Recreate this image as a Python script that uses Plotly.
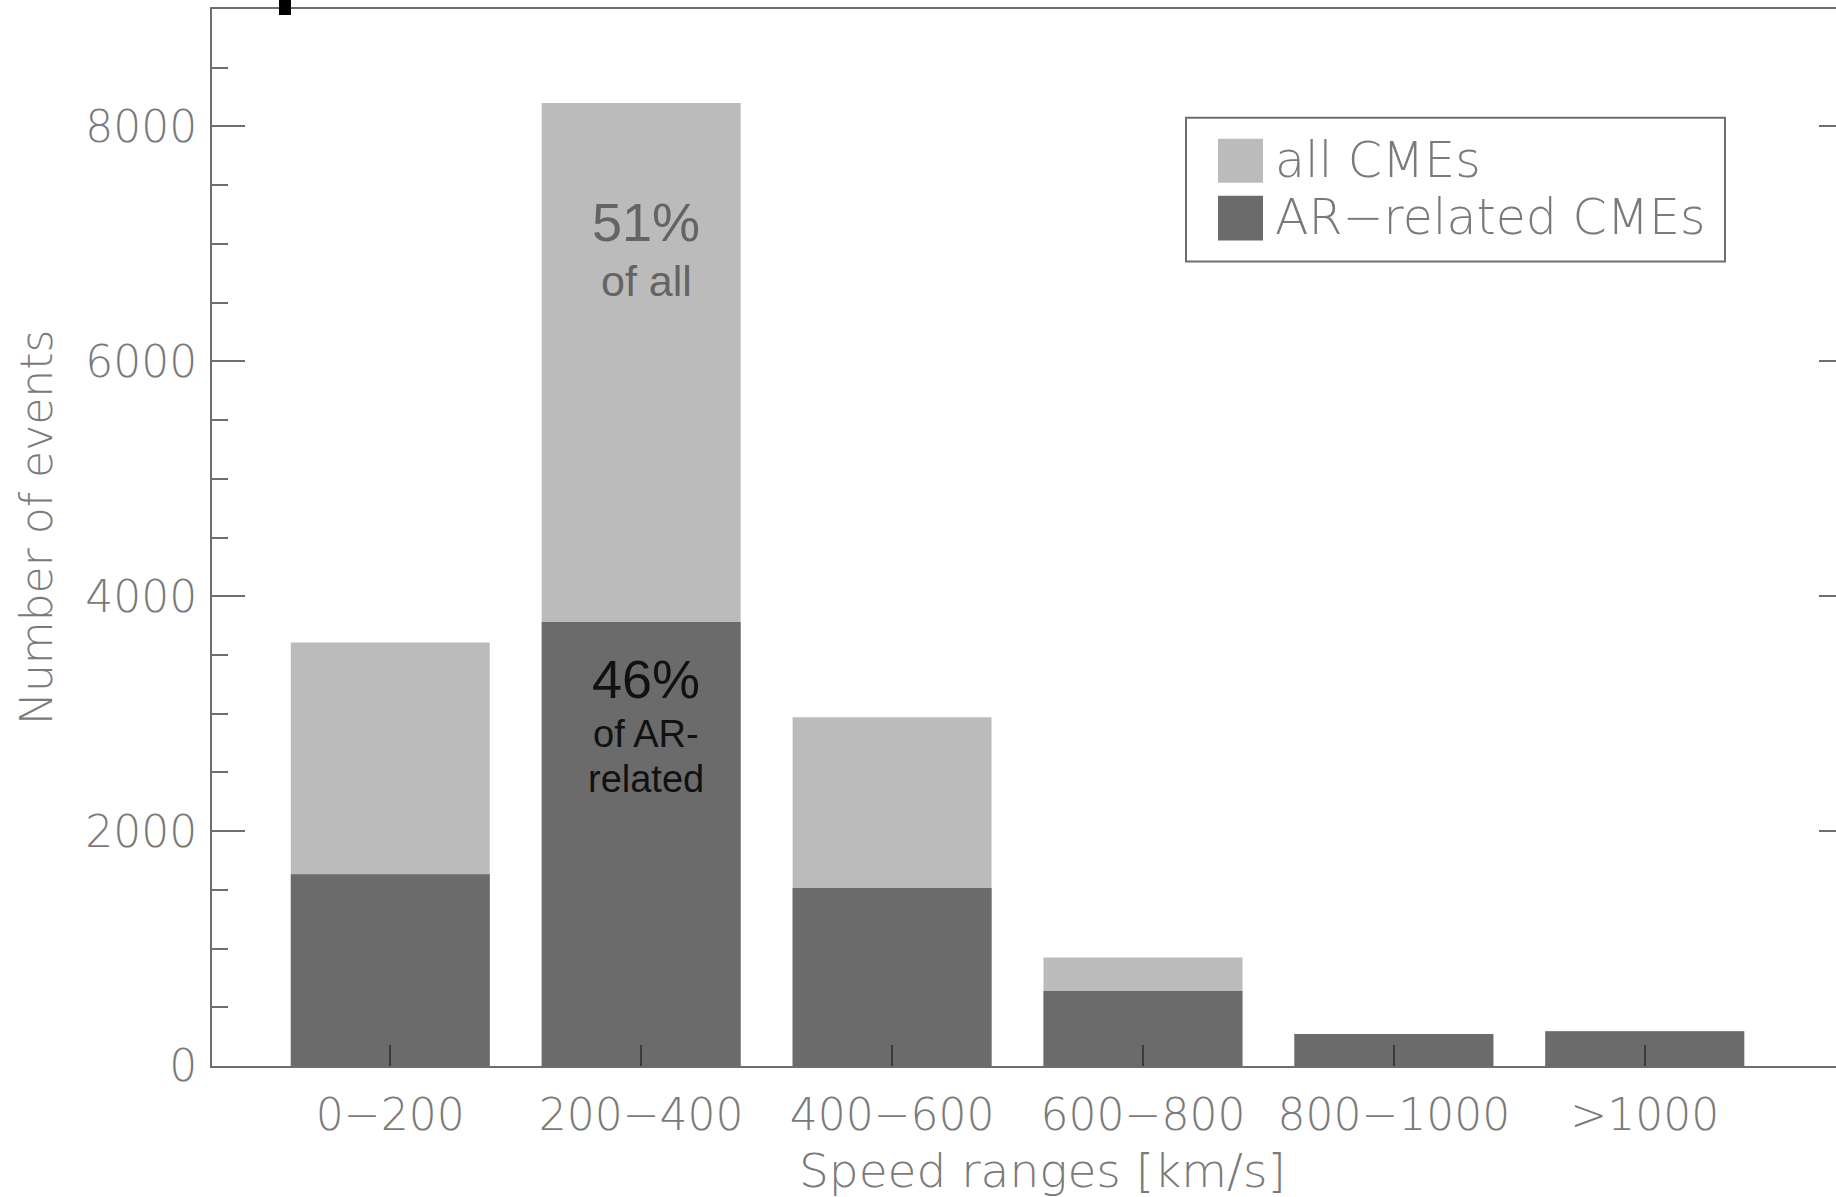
import plotly.graph_objects as go

# Speed bins and CME counts
speed_bins = ["0\u2212200", "200\u2212400", "400\u2212600", "600\u2212800", "800\u22121000", ">1000"]
all_cmes = [3607, 8200, 2970, 924, 272, 295]
ar_cmes = [1632, 3780, 1515, 638, 272, 295]

LIGHT = "#bbbbbb"
DARK = "#6b6b6b"
AXIS = "#6e6e6e"
TEXT = "#7a7a7a"
FONT = "DejaVu Sans"

W, H = 1870, 1197
L, R, T, B = 212, 18, 7, 131
pw, ph = W - L - R, H - T - B


def px_x(x):
    return (x - L) / pw


def px_y(y):
    return (H - B - y) / ph


xpos = list(range(len(speed_bins)))

fig = go.Figure()
fig.add_trace(go.Bar(x=xpos, y=all_cmes, name="all CMEs", marker=dict(color=LIGHT, line=dict(width=0)),
                     width=0.793, showlegend=False))
fig.add_trace(go.Bar(x=xpos, y=ar_cmes, name="AR-related CMEs", marker=dict(color=DARK, line=dict(width=0)),
                     width=0.793, showlegend=False))

fig.update_layout(
    width=W, height=H,
    margin=dict(l=L, r=R, t=T, b=B, pad=0),
    barmode="overlay",
    plot_bgcolor="white", paper_bgcolor="white",
    font=dict(family=FONT, color=TEXT, size=42),
)

fig.update_xaxes(
    range=[-0.7106, 5.826],
    tickmode="array", tickvals=xpos, ticktext=speed_bins,
    ticks="inside", ticklen=21, tickwidth=2, tickcolor="#3a3a3a",
    showline=True, linecolor=AXIS, linewidth=2, mirror=True,
    showgrid=False, zeroline=False,
    tickfont=dict(size=44, color=TEXT, weight=200),
    ticklabelstandoff=9,
)

fig.update_yaxes(
    range=[0, 9000],
    tickmode="linear", tick0=0, dtick=2000,
    ticks="inside", ticklen=33, tickwidth=2, tickcolor=AXIS,
    minor=dict(dtick=500, ticks="inside", ticklen=16, tickwidth=1.5, tickcolor=AXIS),
    showline=True, linecolor=AXIS, linewidth=2, mirror="ticks",
    showgrid=False, zeroline=False,
    tickfont=dict(size=44, color=TEXT, weight=200),
    ticklabelstandoff=4,
)

# Axis titles
fig.add_annotation(x=px_x(1042), y=px_y(1171), xref="paper", yref="paper",
                   text="Speed ranges [km/s]", showarrow=False,
                   xanchor="center", yanchor="middle",
                   font=dict(family=FONT, size=47, color=TEXT, weight=200))
fig.add_annotation(x=px_x(36), y=px_y(527), xref="paper", yref="paper",
                   text="Number of events", showarrow=False, textangle=-90,
                   xanchor="center", yanchor="middle",
                   font=dict(family=FONT, size=44, color=TEXT, weight=200))

# Share labels on the 200-400 km/s bar
ann = [
    ("51%", 7185, 54, "#646464"),
    ("of all", 6680, 43, "#646464"),
    ("46%", 3295, 54, "#111111"),
    ("of AR-", 2830, 38, "#111111"),
    ("related", 2447, 38, "#111111"),
]
for txt, yv, sz, col in ann:
    fig.add_annotation(x=1, y=yv, xref="x", yref="y", text=txt, showarrow=False, xshift=5,
                       font=dict(family="Liberation Sans", size=sz, color=col),
                       xanchor="center", yanchor="middle")

# Legend box drawn by hand
shapes = [
    dict(type="rect", xref="paper", yref="paper",
         x0=px_x(1186), x1=px_x(1725), y0=px_y(260), y1=px_y(116),
         line=dict(color=AXIS, width=2), fillcolor="white", layer="above"),
    dict(type="rect", xref="paper", yref="paper",
         x0=px_x(1218), x1=px_x(1263), y0=px_y(181), y1=px_y(137),
         line=dict(width=0), fillcolor=LIGHT, layer="above"),
    dict(type="rect", xref="paper", yref="paper",
         x0=px_x(1218), x1=px_x(1263), y0=px_y(239), y1=px_y(194),
         line=dict(width=0), fillcolor=DARK, layer="above"),
    # small dark mark along the top frame
    dict(type="rect", xref="paper", yref="paper",
         x0=px_x(279), x1=px_x(291), y0=px_y(13), y1=px_y(-2),
         line=dict(width=0), fillcolor="black", layer="above"),
]
fig.update_layout(shapes=shapes)

for txt, yc in [("all CMEs", 159), ("AR\u2212related CMEs", 216)]:
    fig.add_annotation(x=px_x(1273), y=px_y(yc), xref="paper", yref="paper", text=txt,
                       showarrow=False, xanchor="left", yanchor="middle",
                       font=dict(family=FONT, size=49, color=TEXT, weight=200))

fig.write_html(
    "out.html",
    post_script="document.documentElement.style.overflow='hidden';document.body.style.overflow='hidden';document.body.style.margin='0';window.scrollTo(0,0);",
)
